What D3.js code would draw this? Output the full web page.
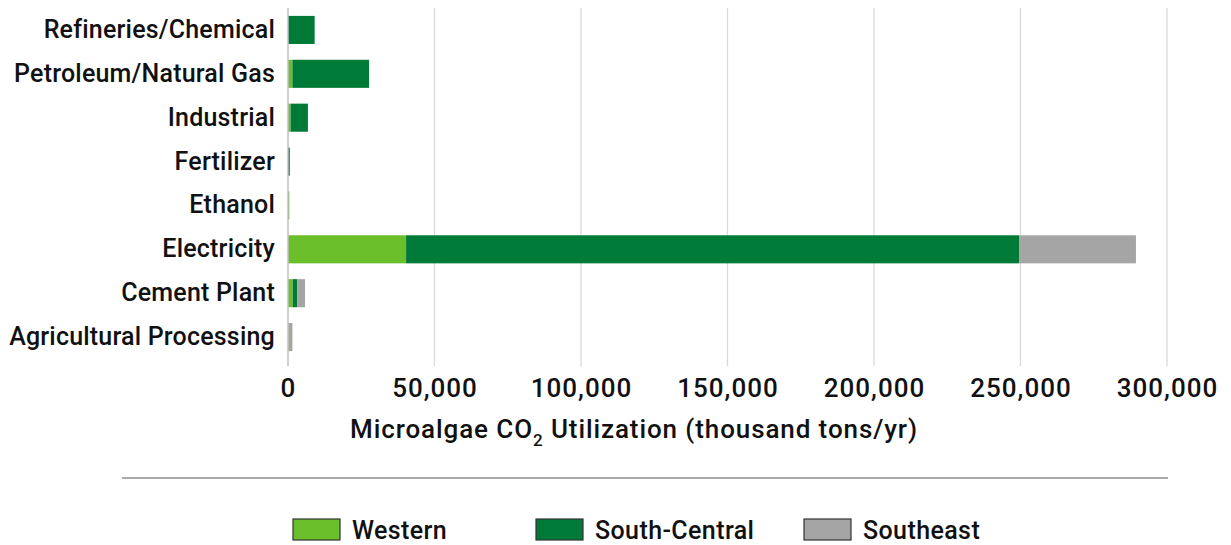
<!DOCTYPE html>
<html><head><meta charset="utf-8">
<script src="https://cdn.jsdelivr.net/npm/d3@7"></script>
<style>
body{margin:0;background:#fff;}
text{font-family:Roboto,"Noto Sans",sans-serif;fill:#111;}
</style></head><body>
<svg id="c" width="1231" height="545"></svg>
<script>
const categories = ["Refineries/Chemical","Petroleum/Natural Gas","Industrial","Fertilizer","Ethanol","Electricity","Cement Plant","Agricultural Processing"];
const western = [0, 1500, 900, 0, 450, 40300, 1600, 200];
const southCentral = [9100, 26150, 5900, 600, 0, 209200, 1600, 0];
const southeast = [0, 0, 0, 0, 0, 39900, 2600, 1300];
const seriesNames = ["Western","South-Central","Southeast"];
const seriesColors = ["#6abf2b","#007a37","#a5a5a5"];
const xTicks = [0,50000,100000,150000,200000,250000,300000];

const FONT = 'Roboto,"Noto Sans",sans-serif';
const svg = d3.select("#c");
const x = d3.scaleLinear().domain([0,300000]).range([288,1167]);
const y = d3.scaleBand().domain(categories).range([8,359]).paddingInner(0.36).paddingOuter(0.18);

// gridlines
svg.append("g").selectAll("line").data(xTicks.slice(1)).join("line")
  .attr("x1",d=>x(d)).attr("x2",d=>x(d)).attr("y1",8).attr("y2",366)
  .attr("stroke","#d9d9d9").attr("stroke-width",1.3);

const data = categories.map((c,i)=>({cat:c, Western:western[i], "South-Central":southCentral[i], Southeast:southeast[i]}));
const stack = d3.stack().keys(seriesNames)(data);
svg.append("g").selectAll("g").data(stack).join("g")
  .attr("fill",(d,i)=>seriesColors[i])
  .selectAll("rect").data(d=>d).join("rect")
  .attr("x",d=>x(d[0])).attr("width",d=>Math.max(0,x(d[1])-x(d[0])))
  .attr("y",d=>y(d.data.cat)).attr("height",y.bandwidth());

// zero axis line
svg.append("line").attr("x1",x(0)).attr("x2",x(0)).attr("y1",8).attr("y2",366)
  .attr("stroke","#bfbfbf").attr("stroke-width",1.5);

// x axis labels
const xa = svg.append("g").attr("transform","translate(0,366)")
  .call(d3.axisBottom(x).tickValues(xTicks).tickFormat(d3.format(",")).tickSize(0).tickPadding(13));
xa.select(".domain").remove();
xa.selectAll("text").style("font-size","26px").style("font-weight","500").style("letter-spacing","1px").style("font-family",FONT).attr("fill","#111");

// y axis labels
const ya = svg.append("g").attr("transform","translate(275,0)")
  .call(d3.axisLeft(y).tickSize(0).tickPadding(0));
ya.select(".domain").remove();
ya.selectAll("text").style("font-size","25px").style("font-weight","500").style("letter-spacing","0.2px").style("font-family",FONT).attr("fill","#111");

// axis title
const t = svg.append("text").attr("x",634).attr("y",438).attr("text-anchor","middle").style("font-size","26px").style("font-weight","500").style("letter-spacing","0.9px");
t.append("tspan").text("Microalgae CO");
t.append("tspan").attr("dy",8).style("font-size","17px").text("2");
t.append("tspan").attr("dy",-8).text(" Utilization (thousand tons/yr)");

// separator
svg.append("line").attr("x1",122).attr("x2",1168).attr("y1",478).attr("y2",478).attr("stroke","#aaaaaa").attr("stroke-width",2);

// legend
const legX = [293,536,804];
const lg = svg.append("g").selectAll("g").data(seriesNames).join("g").attr("transform",(d,i)=>`translate(${legX[i]},519)`);
lg.append("rect").attr("width",47).attr("height",21).attr("fill",(d,i)=>seriesColors[i]).attr("stroke","#333").attr("stroke-width",1.2);
lg.append("text").attr("x",59).attr("y",20).text(d=>d).style("font-size","25px").style("font-weight","500").style("letter-spacing","0.4px");
</script></body></html>
